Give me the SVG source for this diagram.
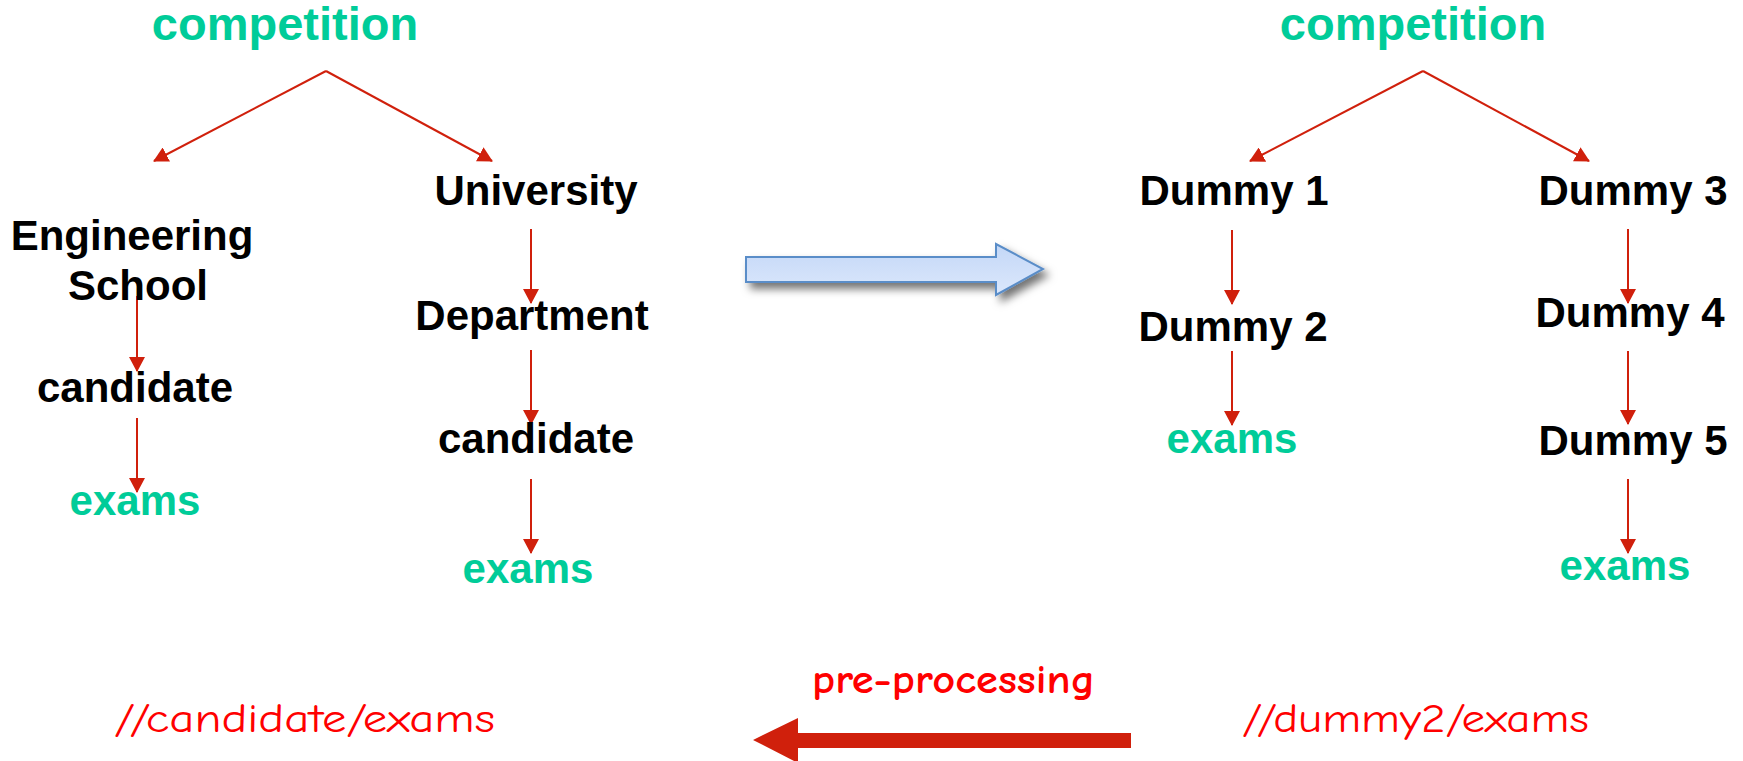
<svg xmlns="http://www.w3.org/2000/svg" width="1743" height="761" viewBox="0 0 1743 761">
<style>
.lbl{font-family:"Liberation Sans",Arial,Helvetica,sans-serif;font-weight:bold;font-size:42px;fill:#000;text-anchor:middle}
.grn{fill:#00CC99}
.big{font-size:47px}
.con{stroke:#D0200C;stroke-width:2;fill:none;marker-end:url(#ah)}
.cmc{font-family:"Comic Sans MS","Comic Neue","DejaVu Sans",sans-serif;fill:#FF0000;font-size:40px}
</style>
<defs>
<marker id="ah" viewBox="0 0 15 16" refX="14" refY="8" markerWidth="15" markerHeight="16" markerUnits="userSpaceOnUse" orient="auto">
<path d="M0,0 L15,8 L0,16 z" fill="#D0200C"/>
</marker>
<linearGradient id="bg" x1="0" y1="0" x2="0" y2="1">
<stop offset="0" stop-color="#C3D7F7"/>
<stop offset="1" stop-color="#DCE8FC"/>
</linearGradient>
<filter id="sh" x="-10%" y="-40%" width="130%" height="200%">
<feDropShadow dx="5" dy="6" stdDeviation="4" flood-color="#000" flood-opacity="0.55"/>
</filter>
</defs>

<g id="connectors">
<line class="con" x1="326" y1="71" x2="154" y2="161"/>
<line class="con" x1="326" y1="71" x2="492" y2="161"/>
<line class="con" x1="137" y1="296" x2="137" y2="371"/>
<line class="con" x1="137" y1="418" x2="137" y2="492"/>
<line class="con" x1="531" y1="229" x2="531" y2="303"/>
<line class="con" x1="531" y1="350" x2="531" y2="424"/>
<line class="con" x1="531" y1="479" x2="531" y2="553"/>
<line class="con" x1="1423" y1="71" x2="1250" y2="161"/>
<line class="con" x1="1423" y1="71" x2="1589" y2="161"/>
<line class="con" x1="1232" y1="230" x2="1232" y2="304"/>
<line class="con" x1="1232" y1="351" x2="1232" y2="425"/>
<line class="con" x1="1628" y1="229" x2="1628" y2="303"/>
<line class="con" x1="1628" y1="351" x2="1628" y2="424"/>
<line class="con" x1="1628" y1="479" x2="1628" y2="553"/>
</g>

<g id="left-competition"><text class="lbl grn big" x="285" y="40">competition</text></g>
<g id="left-engineering-school"><text class="lbl" x="132" y="250">Engineering</text><text class="lbl" x="138" y="300">School</text></g>
<g id="left-candidate1"><text class="lbl" x="135" y="402">candidate</text></g>
<g id="left-exams1"><text class="lbl grn" x="135" y="515">exams</text></g>
<g id="left-university"><text class="lbl" x="536" y="205">University</text></g>
<g id="left-department"><text class="lbl" x="532" y="330">Department</text></g>
<g id="left-candidate2"><text class="lbl" x="536" y="453">candidate</text></g>
<g id="left-exams2"><text class="lbl grn" x="528" y="583">exams</text></g>

<g id="right-competition"><text class="lbl grn big" x="1413" y="40">competition</text></g>
<g id="dummy1"><text class="lbl" x="1234" y="205">Dummy 1</text></g>
<g id="dummy2"><text class="lbl" x="1233" y="341">Dummy 2</text></g>
<g id="right-exams1"><text class="lbl grn" x="1232" y="453">exams</text></g>
<g id="dummy3"><text class="lbl" x="1633" y="205">Dummy 3</text></g>
<g id="dummy4"><text class="lbl" x="1630" y="327">Dummy 4</text></g>
<g id="dummy5"><text class="lbl" x="1633" y="455">Dummy 5</text></g>
<g id="right-exams2"><text class="lbl grn" x="1625" y="580">exams</text></g>

<g id="transform-arrow">
<path d="M746,257 L996,257 L996,244 L1043,269 L996,295 L996,282 L746,282 Z" fill="url(#bg)" stroke="#5A8DC8" stroke-width="2" filter="url(#sh)"/>
</g>

<g id="preprocessing-arrow">
<path d="M1131,733 L798,733 L798,718 L753,740 L798,763 L798,748 L1131,748 Z" fill="#D0200C"/>
<text class="cmc" x="812" y="693" font-weight="bold" textLength="283" lengthAdjust="spacingAndGlyphs">pre-processing</text>
</g>

<g id="xpath-left"><text class="cmc" x="114" y="732" textLength="381" lengthAdjust="spacingAndGlyphs">//candidate/exams</text></g>
<g id="xpath-right"><text class="cmc" x="1242" y="732" textLength="347" lengthAdjust="spacingAndGlyphs">//dummy2/exams</text></g>
</svg>
